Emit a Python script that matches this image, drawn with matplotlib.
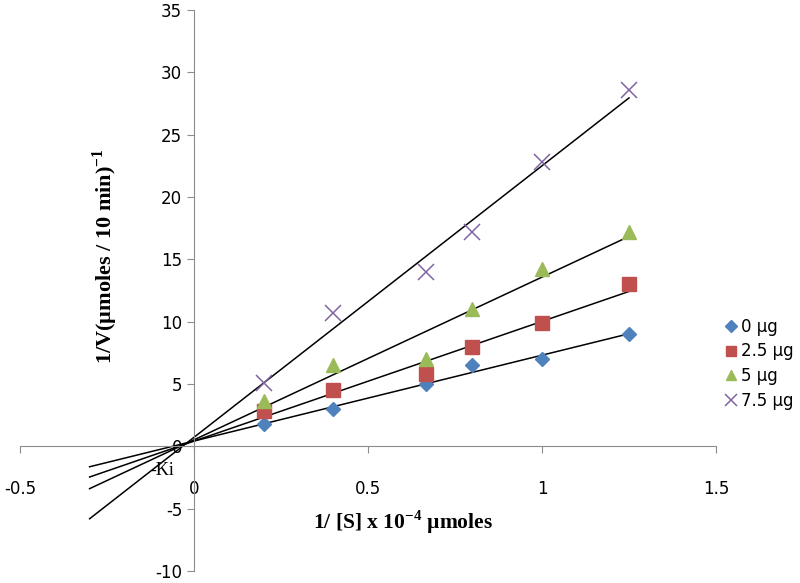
import numpy as np
import matplotlib
matplotlib.use("Agg")
import matplotlib.pyplot as plt

plt.rcParams['font.family'] = ['DejaVu Sans']
plt.rcParams['axes.unicode_minus'] = False
plt.rcParams['mathtext.fontset'] = 'custom'
plt.rcParams['mathtext.rm'] = 'Liberation Serif:bold'
plt.rcParams['mathtext.bf'] = 'Liberation Serif:bold'

# 1/[S] values and 1/V for each inhibitor dose
inv_s = [0.2, 0.4, 0.667, 0.8, 1.0, 1.25]
v_0 = [1.8, 3.0, 5.0, 6.5, 7.0, 9.0]
v_25 = [2.8, 4.5, 5.8, 8.0, 9.9, 13.0]
v_5 = [3.6, 6.5, 7.0, 11.0, 14.2, 17.2]
v_75 = [5.1, 10.7, 14.0, 17.2, 22.8, 28.6]
labels = ['0 µg', '2.5 µg', '5 µg', '7.5 µg']
x_ticks = [-0.5, 0, 0.5, 1, 1.5]
y_ticks = [-10, -5, 0, 5, 10, 15, 20, 25, 30, 35]

series = [v_0, v_25, v_5, v_75]
colors = ['#4F81BD', '#C0504D', '#9BBB59', '#8064A2']
markers = ['D', 's', '^', 'x']
sizes = [7.5, 10, 10, 12]

fig = plt.figure(figsize=(8, 5.83), dpi=100)
ax = fig.add_axes([0.025, 0.0206, 0.87, 0.962])

x = np.array(inv_s)
line_x = np.array([-0.3, 1.25])
for ys, c, m, s, lab in zip(series, colors, markers, sizes, labels):
    # linear trend line, extended back past the y axis
    k, b = np.polyfit(x, ys, 1)
    ax.plot(line_x, k * line_x + b, color='black', lw=1.1, zorder=2)
    if m == 'x':
        ax.plot(x, ys, ls='none', marker=m, ms=s, mew=1.1, color=c, label=lab, zorder=3)
    else:
        ax.plot(x, ys, ls='none', marker=m, ms=s, mfc=c, mec=c, label=lab, zorder=3)

ax.set_xlim(-0.5, 1.5)
ax.set_ylim(-10, 35)
ax.set_xticks(x_ticks)
ax.set_xticklabels(['-0.5', '0', '0.5', '1', '1.5'])
ax.set_yticks(y_ticks)

ax.spines['left'].set_position(('data', 0))
ax.spines['bottom'].set_position(('data', 0))
ax.spines['right'].set_visible(False)
ax.spines['top'].set_visible(False)
for sp in ['left', 'bottom']:
    ax.spines[sp].set_color('#8c8c8c')
ax.tick_params(axis='both', colors='#8c8c8c', labelcolor='black', labelsize=12, length=5)
ax.tick_params(axis='x', pad=19)

ax.text(-0.09, -1.9, '-Ki', fontsize=13, family='Liberation Serif', ha='center', va='center')

ax.text(-0.256, 15.3, r'1/V(µmoles / 10 min)$^{-1}$', rotation=90, fontsize=16,
        family='Liberation Serif', weight='bold', ha='center', va='center')
ax.text(0.6, -6.1, r'1/ [S] x 10$^{-4}$ µmoles', fontsize=15.5,
        family='Liberation Serif', weight='bold', ha='center', va='center')

ax.legend(loc='upper left', bbox_to_anchor=(1.0, 0.4635), frameon=False, fontsize=12,
          handletextpad=0.1, handlelength=1.0, labelspacing=0.4, markerscale=0.75,
          borderaxespad=0)

fig.savefig('out.png', dpi=100)
